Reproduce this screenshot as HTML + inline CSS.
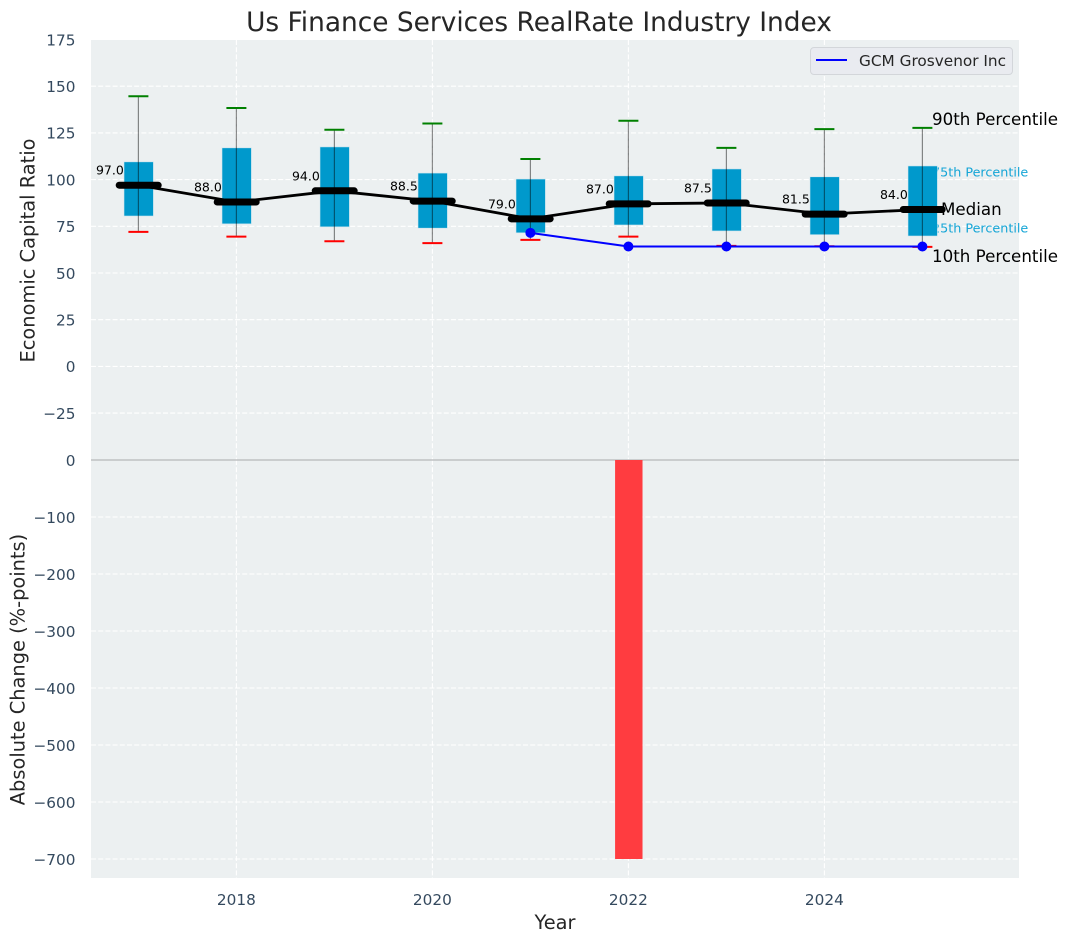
<!DOCTYPE html>
<html>
<head>
<meta charset="utf-8">
<style>
html,body{margin:0;padding:0;background:#fff;}
svg{display:block;font-family:"DejaVu Sans","Liberation Sans",sans-serif;}
</style>
</head>
<body>
<svg id="chart" xmlns="http://www.w3.org/2000/svg" width="1067" height="942" viewBox="0 0 1067 942"></svg>
<script>
const years = [2017, 2018, 2019, 2020, 2021, 2022, 2023, 2024, 2025];
const p90 = [144.6, 138.3, 126.7, 130, 111, 131.5, 117, 127, 127.7];
const p75 = [109.5, 117, 117.5, 103.5, 100.3, 102, 105.7, 101.5, 107.3];
const medians = [97, 88, 94, 88.5, 79, 87, 87.5, 81.5, 84];
const p25 = [80.5, 76.3, 74.7, 74, 71.5, 75.7, 72.5, 70.5, 69.8];
const p10 = [72, 69.5, 67, 66, 67.7, 69.5, 64.5, 64.3, 64];
const companyYears = [2021, 2022, 2023, 2024, 2025];
const companyValues = [71.5, 64.2, 64.2, 64.2, 64.2];
const changeYears = [2022];
const changeValues = [-700];
const xTicks = [2018, 2020, 2022, 2024];
const topTicks = [175, 150, 125, 100, 75, 50, 25, 0, -25];
const bottomTicks = [0, -100, -200, -300, -400, -500, -600, -700];

const svg = document.getElementById('chart');
const NS = 'http://www.w3.org/2000/svg';
const L = 91, R = 1019, T = 40, M = 460, B = 878;
const sx = v => 138.4 + 98 * (v - 2017);
const sxw = d => 98 * d;
const sy = v => 366.4 - 1.868 * v;
const sb = v => 460 - 0.57 * v;
const fmt = v => (v < 0 ? '\u2212' + Math.abs(v) : String(v));

function make(tag, props, text) {
  const el = document.createElementNS(NS, tag);
  for (const k in props) el.setAttribute(k, props[k]);
  if (text !== undefined) el.textContent = text;
  svg.appendChild(el);
  return el;
}
let el;

el = make('rect', {x: L, y: T, width: R - L, height: M - T, fill: '#ecf0f1'});


el = make('rect', {x: L, y: M, width: R - L, height: B - M, fill: '#ecf0f1'});



const gridStyle = {stroke: '#ffffff', 'stroke-width': 1.1, 'stroke-dasharray': '5 2.2'};
topTicks.forEach(t => {
  if (t < 175) {
    el = make('line', {x1: L, x2: R, y1: sy(t), y2: sy(t), ...gridStyle});
    
    
  }
  el = make('text', {x: 75.5, y: sy(t) + 5.8, 'text-anchor': 'end', 'font-size': 15.3, fill: '#34495e'}, fmt(t));
  
  
});
bottomTicks.forEach(t => {
  if (t < 0) {
    el = make('line', {x1: L, x2: R, y1: sb(t), y2: sb(t), ...gridStyle});
    
    
  }
  el = make('text', {x: 75.5, y: sb(t) + 5.8, 'text-anchor': 'end', 'font-size': 15.3, fill: '#34495e'}, fmt(t));
  
  
});
xTicks.forEach(t => {
  el = make('line', {x1: sx(t), x2: sx(t), y1: T, y2: M, ...gridStyle});
  
  
  el = make('line', {x1: sx(t), x2: sx(t), y1: M, y2: B, ...gridStyle});
  
  
  el = make('text', {x: sx(t), y: 905, 'text-anchor': 'middle', 'font-size': 15.3, fill: '#34495e'}, String(t));
  
  
});

el = make('line', {x1: L, x2: R, y1: M, y2: M, stroke: '#bfc1c3', 'stroke-width': 1.4});



changeYears.forEach((yr, i) => {
  el = make('rect', {x: sx(yr) - sxw(0.14) + 0.4, y: sb(0), width: sxw(0.28), height: sb(changeValues[i]) - sb(0), fill: '#ff3c40'});
  
  
});

el = make('text', {x: 932, y: 176.7, 'font-size': 12.75, fill: '#14a5d6'}, '75th Percentile');


el = make('text', {x: 932, y: 232.7, 'font-size': 12.75, fill: '#14a5d6'}, '25th Percentile');



years.forEach((yr, i) => {
  const cx = sx(yr);
  el = make('text', {x: cx - 14.6, y: sy(medians[i]) - 10.5, 'text-anchor': 'end', 'font-size': 12.5, fill: '#000'}, medians[i].toFixed(1));
  
  
  el = make('rect', {x: cx - sxw(0.15) + 0.3, y: sy(p75[i]), width: sxw(0.3), height: sy(p25[i]) - sy(p75[i]), fill: '#0099cc', stroke: '#cfe6ef', 'stroke-width': 0.6});
  
  
  el = make('line', {x1: cx, x2: cx, y1: sy(p90[i]), y2: sy(p10[i]), stroke: '#000', 'stroke-opacity': 0.45, 'stroke-width': 1.2});
  
  
  el = make('line', {x1: cx - 10, x2: cx + 10, y1: sy(p90[i]), y2: sy(p90[i]), stroke: '#008000', 'stroke-width': 2});
  
  
  el = make('line', {x1: cx - 10, x2: cx + 10, y1: sy(p10[i]), y2: sy(p10[i]), stroke: '#ff0000', 'stroke-width': 2});
  
  
});

el = make('polyline', {points: years.map((yr, i) => sx(yr) + ',' + sy(medians[i])).join(' '), fill: 'none', stroke: '#000', 'stroke-width': 2.8});


years.forEach((yr, i) => {
  el = make('line', {x1: sx(yr) - 19.2, x2: sx(yr) + 19.8, y1: sy(medians[i]), y2: sy(medians[i]), stroke: '#000', 'stroke-width': 7, 'stroke-linecap': 'round'});
  
  
});

el = make('polyline', {points: companyYears.map((yr, i) => sx(yr) + ',' + sy(companyValues[i])).join(' '), fill: 'none', stroke: '#0000ff', 'stroke-width': 2});


companyYears.forEach((yr, i) => {
  el = make('circle', {cx: sx(yr), cy: sy(companyValues[i]), r: 5, fill: '#0000ff'});
  
  
});

el = make('text', {x: 932, y: 125, 'font-size': 16.7, fill: '#000'}, '90th Percentile');


el = make('text', {x: 941, y: 215, 'font-size': 16.7, fill: '#000'}, 'Median');


el = make('text', {x: 932, y: 262, 'font-size': 16.7, fill: '#000'}, '10th Percentile');



el = make('rect', {x: 810.5, y: 47.5, width: 202, height: 27, rx: 3.5, fill: '#e9ebf0', stroke: '#d3d6da', 'stroke-width': 1});


el = make('line', {x1: 816, x2: 847, y1: 60, y2: 60, stroke: '#0000ff', 'stroke-width': 2});


el = make('text', {x: 859, y: 66, 'font-size': 15.3, fill: '#262626'}, 'GCM Grosvenor Inc');



el = make('text', {x: 539, y: 31, 'text-anchor': 'middle', 'font-size': 26.4, fill: '#262626'}, 'Us Finance Services RealRate Industry Index');


el = make('text', {x: 555, y: 929, 'text-anchor': 'middle', 'font-size': 19.4, fill: '#262626'}, 'Year');


el = make('text', {transform: 'translate(34.5,250.5) rotate(-90)', 'text-anchor': 'middle', 'font-size': 19.4, fill: '#262626'}, 'Economic Capital Ratio');


el = make('text', {transform: 'translate(24.5,669.5) rotate(-90)', 'text-anchor': 'middle', 'font-size': 19.4, fill: '#262626'}, 'Absolute Change (%-points)');


</script>
</body>
</html>
